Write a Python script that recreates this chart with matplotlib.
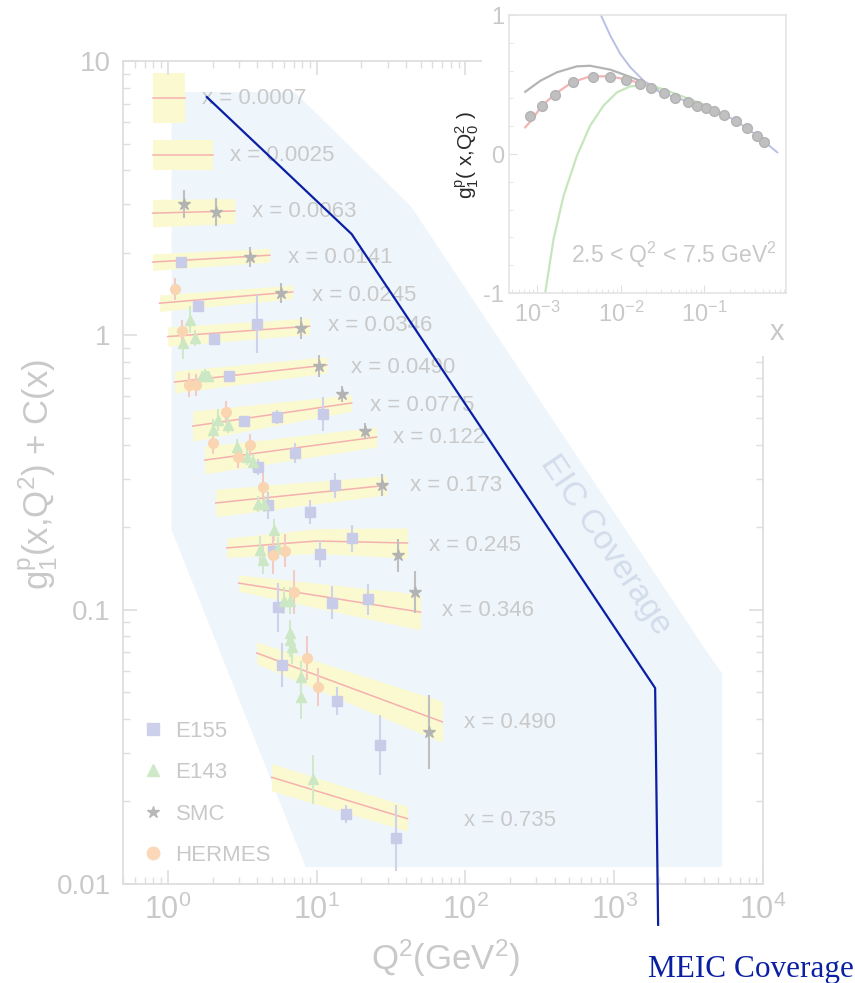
import numpy as np
import matplotlib
matplotlib.use('Agg')
import matplotlib.pyplot as plt
from matplotlib.patches import Rectangle
from matplotlib.lines import Line2D
from matplotlib.ticker import LogLocator, NullFormatter, MultipleLocator

plt.rcParams['font.family'] = ['Liberation Sans', 'DejaVu Sans']
plt.rcParams['mathtext.fontset'] = 'custom'
plt.rcParams['mathtext.rm'] = 'Liberation Sans'
plt.rcParams['mathtext.it'] = 'Liberation Sans:italic'
plt.rcParams['mathtext.default'] = 'regular'

# ---- main panel: g1p(x,Q2)+C(x) bins ----
bin_labels = ['x = 0.0007', 'x = 0.0025', 'x = 0.0063', 'x = 0.0141', 'x = 0.0245',
              'x = 0.0346', 'x = 0.0490', 'x = 0.0775', 'x = 0.122', 'x = 0.173',
              'x = 0.245', 'x = 0.346', 'x = 0.490', 'x = 0.735']
band_q = [[0.79, 1.30], [0.79, 2.0], [0.79, 2.82], [0.79, 4.84], [0.88, 6.9],
          [1.0, 8.97], [1.11, 11.7], [1.47, 17.2], [1.77, 25.3], [2.1, 29.5],
          [2.49, 10.0, 40.8], [3.0, 49.9], [3.96, 70.0], [4.99, 40.8]]
band_g = [[7.33, 7.33], [4.54, 4.54], [2.79, 2.84], [1.85, 1.96], [1.31, 1.44],
          [0.99, 1.08], [0.676, 0.78], [0.467, 0.567], [0.351, 0.426], [0.245, 0.284],
          [0.168, 0.178, 0.175], [0.125, 0.098], [0.0695, 0.039], [0.0245, 0.0173]]
band_w = [[0.09, 0.09], [0.055, 0.055], [0.05, 0.045], [0.03, 0.025], [0.03, 0.025],
          [0.035, 0.03], [0.04, 0.03], [0.055, 0.03], [0.05, 0.036], [0.05, 0.035],
          [0.035, 0.045, 0.055], [0.03, 0.065], [0.04, 0.075], [0.05, 0.045]]
label_q = [1.69, 2.61, 3.66, 6.39, 9.26, 11.9, 16.9, 23.0, 32.4, 42.1, 57.3, 70.1, 98.5, 98.5]
label_g = [7.33, 4.54, 2.84, 1.93, 1.40, 1.09, 0.766, 0.557, 0.426, 0.284, 0.172, 0.0997, 0.0389, 0.0171]

e155_q = [1.22, 1.59, 2.04, 3.96, 2.57, 3.24, 5.39, 11.0, 4.02, 7.12, 4.69, 8.97, 13.2,
          5.07, 10.6, 17.2, 5.47, 12.6, 22.3, 5.82, 13.8, 26.5, 15.7, 34.4]
e155_g = [1.85, 1.28, 0.97, 1.10, 0.711, 0.487, 0.504, 0.517, 0.331, 0.372, 0.240, 0.227, 0.284,
          0.164, 0.160, 0.182, 0.102, 0.106, 0.109, 0.0628, 0.0465, 0.0321, 0.018, 0.0147]
e155_e = [0.02, 0.02, 0.02, 0.105, 0.02, 0.02, 0.025, 0.062, 0.03, 0.036, 0.05, 0.045, 0.045,
          0.05, 0.05, 0.05, 0.09, 0.06, 0.055, 0.08, 0.05, 0.11, 0.033, 0.12]

e143_q = [1.40, 1.26, 1.52, 1.69, 1.77, 1.85, 2.17, 2.53, 2.0, 2.9, 3.39, 3.72, 4.02, 4.41,
          5.2, 4.14, 4.34, 5.47, 6.0, 6.6, 6.6, 6.6, 6.8, 7.9, 7.9, 9.4]
e143_g = [1.14, 0.94, 0.98, 0.711, 0.72, 0.711, 0.491, 0.471, 0.452, 0.392, 0.360, 0.345,
          0.243, 0.243, 0.195, 0.165, 0.152, 0.168, 0.108, 0.108, 0.082, 0.0774, 0.073,
          0.0568, 0.048, 0.0241]
e143_e = [0.05, 0.06, 0.03, 0.02, 0.02, 0.02, 0.04, 0.03, 0.04, 0.03, 0.03, 0.03, 0.03, 0.03,
          0.04, 0.05, 0.05, 0.04, 0.05, 0.05, 0.05, 0.06, 0.06, 0.06, 0.08, 0.09]

smc_q = [1.28, 2.1, 3.55, 5.73, 7.8, 10.3, 14.7, 21.3, 27.7, 35.0, 45.5, 57.3]
smc_g = [3.01, 2.82, 1.93, 1.43, 1.06, 0.773, 0.611, 0.448, 0.284, 0.158, 0.116, 0.0358]
smc_e = [0.05, 0.05, 0.036, 0.036, 0.04, 0.04, 0.03, 0.03, 0.04, 0.06, 0.075, 0.135]

herm_q = [1.11, 1.24, 1.38, 1.54, 2.45, 2.0, 2.95, 3.55, 4.34, 5.07, 6.1, 7.1, 8.57, 10.2]
herm_g = [1.47, 1.04, 0.659, 0.659, 0.525, 0.405, 0.360, 0.398, 0.280, 0.158, 0.164, 0.116,
          0.0665, 0.0522]
herm_e = [0.04, 0.04, 0.045, 0.04, 0.04, 0.04, 0.04, 0.04, 0.05, 0.07, 0.06, 0.08, 0.08, 0.07]

# EIC coverage region and MEIC line
eic_q = [1.06, 7.12, 43.4, 4210, 5310, 5310, 8.44, 1.06]
eic_g = [7.71, 7.71, 2.94, 0.070, 0.0587, 0.01153, 0.01153, 0.195]
meic_q = [1.83, 17.2, 1884, 1973]
meic_g = [7.39, 2.34, 0.0518, 0.0071]

# ---- inset: g1p(x, Q0^2) ----
gray_x = [7.2e-4, 1.09e-3, 1.72e-3, 2.99e-3, 4.3e-3, 7.5e-3, 0.0119, 0.0171, 0.0215, 0.028]
gray_y = [0.448, 0.527, 0.588, 0.631, 0.635, 0.607, 0.563, 0.527, 0.504, 0.47]
red_x = [7.2e-4, 8.65e-4, 1.14e-3, 1.64e-3, 2.6e-3, 4.3e-3, 7.5e-3, 0.0119, 0.0188, 0.0247]
red_y = [0.192, 0.247, 0.348, 0.432, 0.516, 0.559, 0.559, 0.535, 0.504, 0.473]
green_x = [1.25e-3, 1.57e-3, 2.07e-3, 2.99e-3, 4.3e-3, 6.2e-3, 9.0e-3, 0.013, 0.0188, 0.0272,
           0.04, 0.07, 0.11]
green_y = [-0.995, -0.612, -0.300, -0.012, 0.204, 0.348, 0.444, 0.487, 0.496, 0.480,
           0.445, 0.39, 0.345]
blue_x = [5.7e-3, 7.5e-3, 9.9e-3, 0.013, 0.0188, 0.0272, 0.0392, 0.068, 0.108, 0.171, 0.27,
          0.428, 0.743]
blue_y = [1.007, 0.851, 0.719, 0.624, 0.527, 0.455, 0.419, 0.372, 0.336, 0.288, 0.216,
          0.132, 0.012]
pts_x = 10 ** np.array([-3.084, -2.944, -2.784, -2.573, -2.337, -2.125, -1.934, -1.766, -1.638,
                        -1.487, -1.347, -1.199, -1.087, -0.976, -0.880, -0.768, -0.628, -0.489,
                        -0.369, -0.289])
pts_y = [0.271, 0.348, 0.427, 0.520, 0.556, 0.554, 0.532, 0.504, 0.473, 0.437, 0.401, 0.372,
         0.348, 0.331, 0.312, 0.281, 0.240, 0.185, 0.132, 0.084]

txt = '#c9c9c9'
spine = '#dedede'
navy = '#0b1fa3'

fig = plt.figure(figsize=(8.55, 9.83), dpi=100)
ax = fig.add_axes([0.1439, 0.1007, 0.7485, 0.8372])
ax.set_xscale('log')
ax.set_yscale('log')
ax.set_xlim(0.5, 1e4)
ax.set_ylim(0.01, 10)

ax.fill(eic_q, eic_g, color='#eef6fc', lw=0, zorder=0)
ax.text(871, 0.172, 'EIC Coverage', rotation=-56, rotation_mode='anchor', ha='center',
        va='center', fontsize=24, color='#d2dcea', zorder=1)

for i in range(len(bin_labels)):
    q = np.array(band_q[i])
    g = np.array(band_g[i])
    w = np.array(band_w[i])
    ax.fill_between(q, g * 10 ** (-w), g * 10 ** w, color='#fbf9cf', lw=0, zorder=1)
    ax.plot(q, g, color='#f5b0b0', lw=1.1, zorder=2)
    ax.text(label_q[i], label_g[i], bin_labels[i], fontsize=16, color=txt, ha='left',
            va='center', zorder=2)

def pts(q, g, e, marker, ms, fc, ec):
    g = np.array(g)
    e = np.array(e)
    err = [g - g * 10 ** (-e), g * 10 ** e - g]
    ax.errorbar(q, g, yerr=err, fmt=marker, ms=ms, mfc=fc, mec=fc, ecolor=ec,
                elinewidth=1.5, capsize=0, zorder=3)

pts(e155_q, e155_g, e155_e, 's', 6.5, '#c9cce8', '#cfd2eb')
pts(e143_q, e143_g, e143_e, '^', 7, '#cbe7c4', '#d1e9ca')
pts(herm_q, herm_g, herm_e, 'o', 7, '#f9d5b2', '#f3cbc6')
pts(smc_q, smc_g, smc_e, '*', 9, '#b3b3b3', '#bfbfbf')

ax.plot(meic_q, meic_g, color=navy, lw=1.6, clip_on=False, zorder=10)
fig.text(0.758, 0.0065, 'MEIC Coverage', family='Liberation Serif', fontsize=22.5,
         color=navy, ha='left', va='baseline')

for s in ax.spines.values():
    s.set_color(spine)
    s.set_linewidth(1.3)
ax.tick_params(which='both', direction='in', top=True, right=True, colors=spine,
               labelcolor=txt)
ax.tick_params(which='major', length=10, width=1.2)
ax.tick_params(which='minor', length=5, width=1.0)
ax.tick_params(axis='x', labelsize=22, pad=8)
ax.tick_params(axis='y', labelsize=20, pad=9)
ax.xaxis.set_major_locator(LogLocator(base=10, numticks=10))
ax.xaxis.set_minor_locator(LogLocator(base=10, subs=np.arange(2, 10), numticks=20))
ax.xaxis.set_minor_formatter(NullFormatter())
ax.set_yticks([0.01, 0.1, 1, 10], labels=['0.01', '0.1', '1', '10'])
ax.yaxis.set_minor_locator(LogLocator(base=10, subs=np.arange(2, 10), numticks=20))
ax.yaxis.set_minor_formatter(NullFormatter())

fig.text(0.521, 0.0254, 'Q$^2$(GeV$^2$)', fontsize=25, color=txt, ha='center', va='center')
fig.text(0.044, 0.517, 'g$_1^p$(x,Q$^2$) + C(x)', fontsize=25, color=txt, rotation=90,
         ha='center', va='center')

handles = [Line2D([], [], ls='none', marker='s', ms=9, color='#cdd0ea'),
           Line2D([], [], ls='none', marker='^', ms=9, color='#cfe9c8'),
           Line2D([], [], ls='none', marker='*', ms=9, color='#b8b8b8'),
           Line2D([], [], ls='none', marker='o', ms=9, color='#fad8b8')]
ax.legend(handles, ['E155', 'E143', 'SMC', 'HERMES'], loc='center left',
          bbox_to_anchor=(0.03, 0.11), frameon=False, fontsize=16, labelcolor=txt,
          handlelength=1.0, handletextpad=0.5, labelspacing=0.92, borderpad=0,
          borderaxespad=0)

# white area behind the inset (leaves the EIC wedge visible)
fig.add_artist(Rectangle((0.5637, 0.6948), 0.4363, 0.3052, transform=fig.transFigure,
                         facecolor='white', edgecolor='none', zorder=5))
fig.add_artist(Rectangle((0.6082, 0.6378), 0.3918, 0.3622, transform=fig.transFigure,
                         facecolor='white', edgecolor='none', zorder=5))

axin = fig.add_axes([0.5953, 0.7019, 0.3242, 0.2828])
axin.set_zorder(6)
axin.set_xscale('log')
axin.set_xlim(4.6e-4, 0.95)
axin.set_ylim(-1, 1)
axin.plot(gray_x, gray_y, color='#b4b4b4', lw=1.6)
axin.plot(green_x, green_y, color='#c6e6bd', lw=1.6)
axin.plot(red_x, red_y, color='#f3b4b4', lw=1.6)
axin.plot(blue_x, blue_y, color='#b9c0e6', lw=1.4)
axin.plot(pts_x, pts_y, 'o', ms=7, color='#c0c0c0', mec='#b3b3b3')
for s in axin.spines.values():
    s.set_color('#e4e4e4')
    s.set_linewidth(1.2)
axin.tick_params(which='both', direction='in', colors='#e0e0e0', labelcolor=txt,
                 labelsize=17)
axin.tick_params(which='major', length=6)
axin.tick_params(which='minor', length=3)
axin.tick_params(axis='x', pad=6)
axin.set_yticks([-1, 0, 1], labels=['-1', '0', '1'])
axin.yaxis.set_minor_locator(MultipleLocator(0.2))
axin.xaxis.set_major_locator(LogLocator(base=10, numticks=10))
axin.xaxis.set_minor_locator(LogLocator(base=10, subs=np.arange(2, 10), numticks=20))
axin.xaxis.set_minor_formatter(NullFormatter())
axin.text(0.967, 0.137, '2.5 < Q$^2$ < 7.5 GeV$^2$', transform=axin.transAxes, ha='right',
          va='center', fontsize=16.5, color=txt)
axin.text(0.967, -0.14, 'x', transform=axin.transAxes, ha='center', va='center',
          fontsize=21, color=txt)
axin.text(-0.152, 0.496, 'g$_1^p$( x,Q$_0^2$ )', transform=axin.transAxes, rotation=90,
          ha='center', va='center', fontsize=15, color='#2a2a2a')

fig.savefig('out.png', dpi=100)
